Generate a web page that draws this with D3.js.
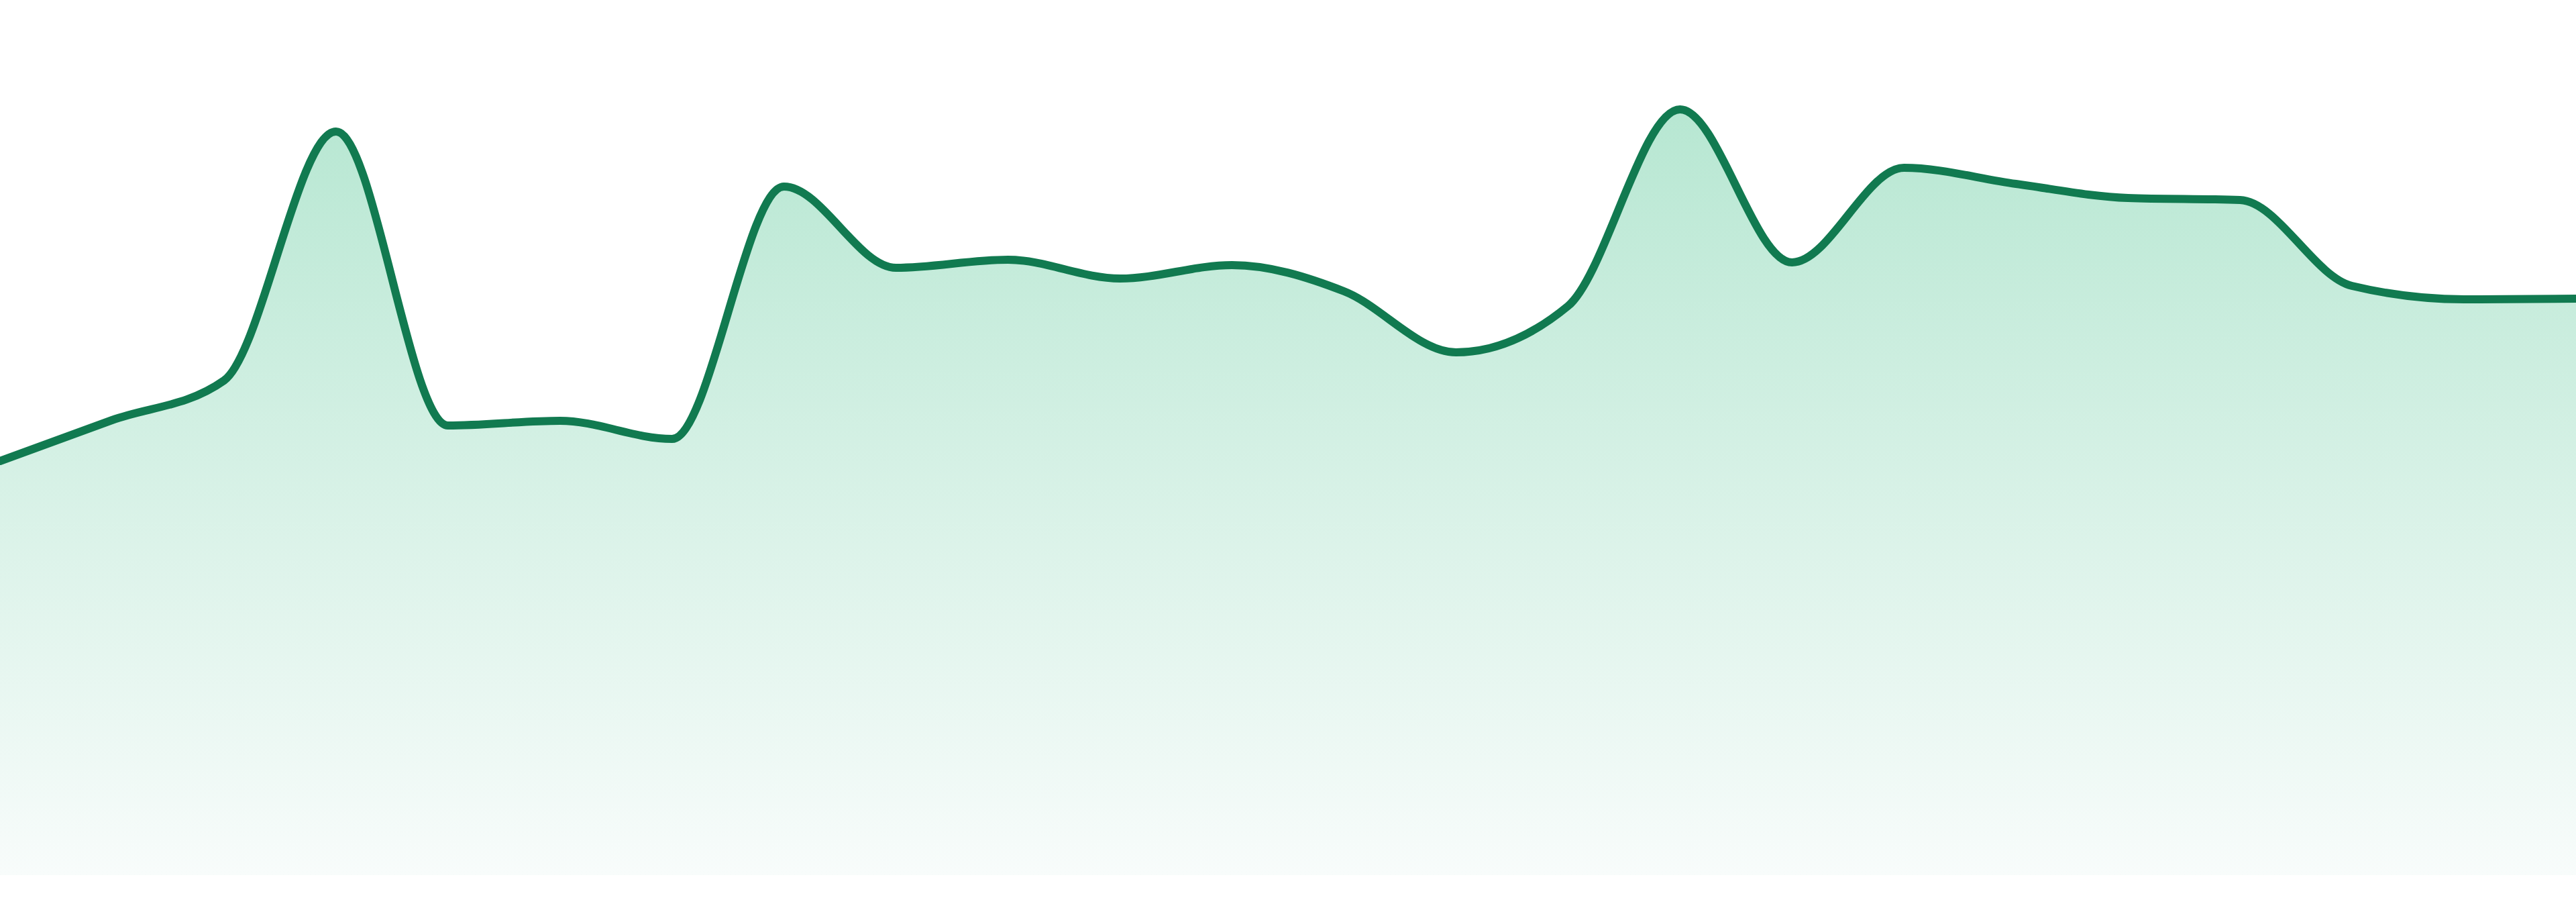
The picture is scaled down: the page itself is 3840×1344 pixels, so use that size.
<!DOCTYPE html>
<html>
<head>
<meta charset="utf-8">
<script src="https://cdn.jsdelivr.net/npm/d3@7"></script>
<style>
  html, body { margin: 0; padding: 0; background: #fff; }
  svg { display: block; }
</style>
</head>
<body>
<svg id="chart"></svg>
<script>
// one value per step
const steps = [0, 1, 2, 3, 4, 5, 6, 7, 8, 9, 10, 11, 12, 13, 14, 15, 16, 17, 18, 19, 20, 21, 22, 23];
const values = [
  61.7, 67.8, 73.7, 110.8, 67.0, 67.7, 65.0, 102.6,
  90.5, 91.7, 88.9, 90.9, 87.0, 77.9, 84.8, 114.1,
  91.3, 105.4, 103.0, 100.9, 100.6, 87.8, 85.8, 85.9
];
const yDomain = [0, 130];

const width = 3840;
const height = 1344;
const baseline = 1304;

const svg = d3.select("#chart")
  .attr("width", width)
  .attr("height", height);

const xScale = d3.scalePoint().domain(steps).range([0, width]);
const yScale = d3.scaleLinear().domain(yDomain).range([baseline, baseline - 1300]);

const data = steps.map((s, i) => ({ step: s, value: values[i] }));

const grad = svg.append("defs")
  .append("linearGradient")
  .attr("id", "fade")
  .attr("gradientUnits", "userSpaceOnUse")
  .attr("x1", 0).attr("x2", 0)
  .attr("y1", yScale(d3.max(values)))
  .attr("y2", baseline);

grad.append("stop").attr("offset", "0%").attr("stop-color", "#b7e7d2");
grad.append("stop").attr("offset", "100%").attr("stop-color", "#f8fcfb");

const area = d3.area()
  .x((d) => xScale(d.step))
  .y0(baseline)
  .y1((d) => yScale(d.value))
  .curve(d3.curveMonotoneX);

const line = d3.line()
  .x((d) => xScale(d.step))
  .y((d) => yScale(d.value))
  .curve(d3.curveMonotoneX);

svg.append("path")
  .datum(data)
  .attr("d", area)
  .attr("fill", "url(#fade)");

svg.append("path")
  .datum(data)
  .attr("d", line)
  .attr("fill", "none")
  .attr("stroke", "#117a50")
  .attr("stroke-width", 12)
  .attr("stroke-linejoin", "round")
  .attr("stroke-linecap", "round");
</script>
</body>
</html>
